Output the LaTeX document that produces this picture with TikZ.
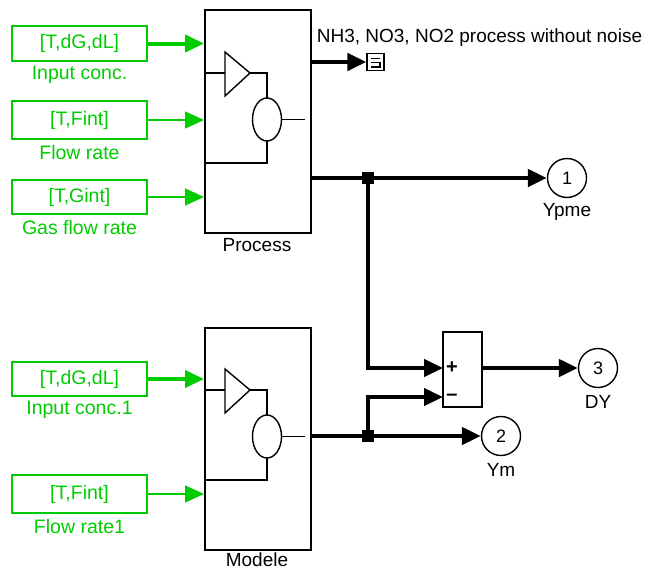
\documentclass[tikz,border=0pt]{standalone}
\usepackage{fontspec}
\setmainfont{Liberation Sans}
\usetikzlibrary{arrows.meta}
\definecolor{sgreen}{RGB}{0,204,0}
\begin{document}
\begin{tikzpicture}[x=1pt,y=-1pt,
  every node/.style={font=\fontsize{19}{22}\selectfont, inner sep=0pt},
  gbox/.style={draw=sgreen, line width=1.8pt, text=sgreen, minimum width=135pt, anchor=center, font=\fontsize{19.5}{22}\selectfont},
  glabel/.style={text=sgreen, font=\fontsize{19.5}{22}\selectfont},
  blk/.style={draw, line width=1.6pt, anchor=north west},
  inner/.style={line width=1.4pt},
  tip/.style={-{Triangle[length=19pt,width=17pt]}},
  gthick/.style={draw=sgreen, line width=4pt, tip, sgreen},
  gthin/.style={draw=sgreen, line width=1.5pt, tip, sgreen},
  sig/.style={line width=4.5pt, tip},
  port/.style={draw, circle, line width=1.4pt, minimum size=39pt, font=\fontsize{18}{20}\selectfont},
  junc/.style={fill, minimum size=12pt, inner sep=0pt}
]
\useasboundingbox (0,0) rectangle (656,570);

% blocks
\node[blk, minimum width=106pt, minimum height=223pt] (proc) at (204,9) {};
\node at (257,245) (proclbl) {Process};
\node[blk, minimum width=106pt, minimum height=222pt] (mod) at (204,327) {};
\node at (257,560) (modlbl) {Modele};

% inner drawings of Process
\draw[inner] (225,52) -- (225,96) -- (250,73) -- cycle;
\draw[inner] (204,73) -- (225,73);
\draw[inner] (250,73) -- (267,73) -- (267,98);
\draw[inner] (267,119.5) ellipse [x radius=14.5, y radius=21.5];
\draw[inner] (281.5,119.5) -- (305,119.5);
\draw[inner] (267,141) -- (267,163) -- (204,163);

% inner drawings of Modele
\begin{scope}[yshift=-317pt]
\draw[inner] (225,52) -- (225,96) -- (250,73) -- cycle;
\draw[inner] (204,73) -- (225,73);
\draw[inner] (250,73) -- (267,73) -- (267,98);
\draw[inner] (267,119.5) ellipse [x radius=14.5, y radius=21.5];
\draw[inner] (281.5,119.5) -- (305,119.5);
\draw[inner] (267,141) -- (267,163) -- (204,163);
\end{scope}

% green goto/from boxes
\node[gbox, minimum height=35pt] (g1) at (79.5,43.5) {[T,dG,dL]};
\node[glabel] (g1l) at (79.5,75) {Input conc.};
\node[gbox, minimum height=38pt] (g2) at (79.5,120) {[T,Fint]};
\node[glabel] (g2l) at (79.5,153) {Flow rate};
\node[gbox, minimum height=34pt] (g3) at (79.5,197) {[T,Gint]};
\node[glabel] (g3l) at (79.5,228) {Gas flow rate};
\node[gbox, minimum height=34pt] (m1) at (79.5,379) {[T,dG,dL]};
\node[glabel] (m1l) at (79.5,410) {Input conc.1};
\node[gbox, minimum height=38pt] (m2) at (79.5,494) {[T,Fint]};
\node[glabel] (m2l) at (79.5,527) {Flow rate1};

\draw[gthick] (g1.east) -- (g1.east -| proc.west);
\draw[gthin] (g2.east) -- (g2.east -| proc.west);
\draw[gthin] (g3.east) -- (g3.east -| proc.west);
\draw[gthick] (m1.east) -- (m1.east -| mod.west);
\draw[gthin] (m2.east) -- (m2.east -| mod.west);

% terminator / to workspace
\node at (479.5,38) (nhtext) {NH3, NO3, NO2 process without noise};
\node[draw, line width=1.3pt, minimum width=17pt, minimum height=17pt] (term) at (375.5,62) {};
\draw[line width=1.1pt] (371,58.5) -- (380,58.5);
\draw[line width=1.1pt] (371,62.5) -- (380,62.5) -- (380,67) -- (371,67);
\coordinate (pout1) at (310,62);
\draw[sig] (pout1) -- (term.west);

% output ports
\node[port] (o1) at (567,178) {1};
\node (o1l) at (567,212) {Ypme};
\node[port] (o2) at (501,436) {2};
\node (o2l) at (501,470) {Ym};
\node[port] (o3) at (598,368) {3};
\node (o3l) at (598,402) {DY};

% sum block
\node[draw, line width=1.4pt, minimum width=39pt, minimum height=75pt] (sum) at (462.5,369.5) {};
\node[font=\fontsize{20}{20}\selectfont\bfseries] (plus) at (452,368) {+};
\node[font=\fontsize{20}{20}\selectfont\bfseries] (minus) at (452,397) {–};

% signal lines
\coordinate (pout2) at (310,178);
\coordinate (mout) at (310,436);
\node[junc] (j1) at (368,178) {};
\node[junc] (j2) at (368,436) {};
\draw[sig] (pout2) -- (o1.west);
\draw[sig] (mout) -- (o2.west);
\coordinate (sp) at (443,368);
\coordinate (sm) at (443,397);
\draw[sig] (j1.center) -- (j1.center |- sp) -- (sp);
\draw[sig] (j2.center) -- (j2.center |- sm) -- (sm);
\draw[sig] (sum.east |- o3.west) -- (o3.west);
\end{tikzpicture}
\end{document}
